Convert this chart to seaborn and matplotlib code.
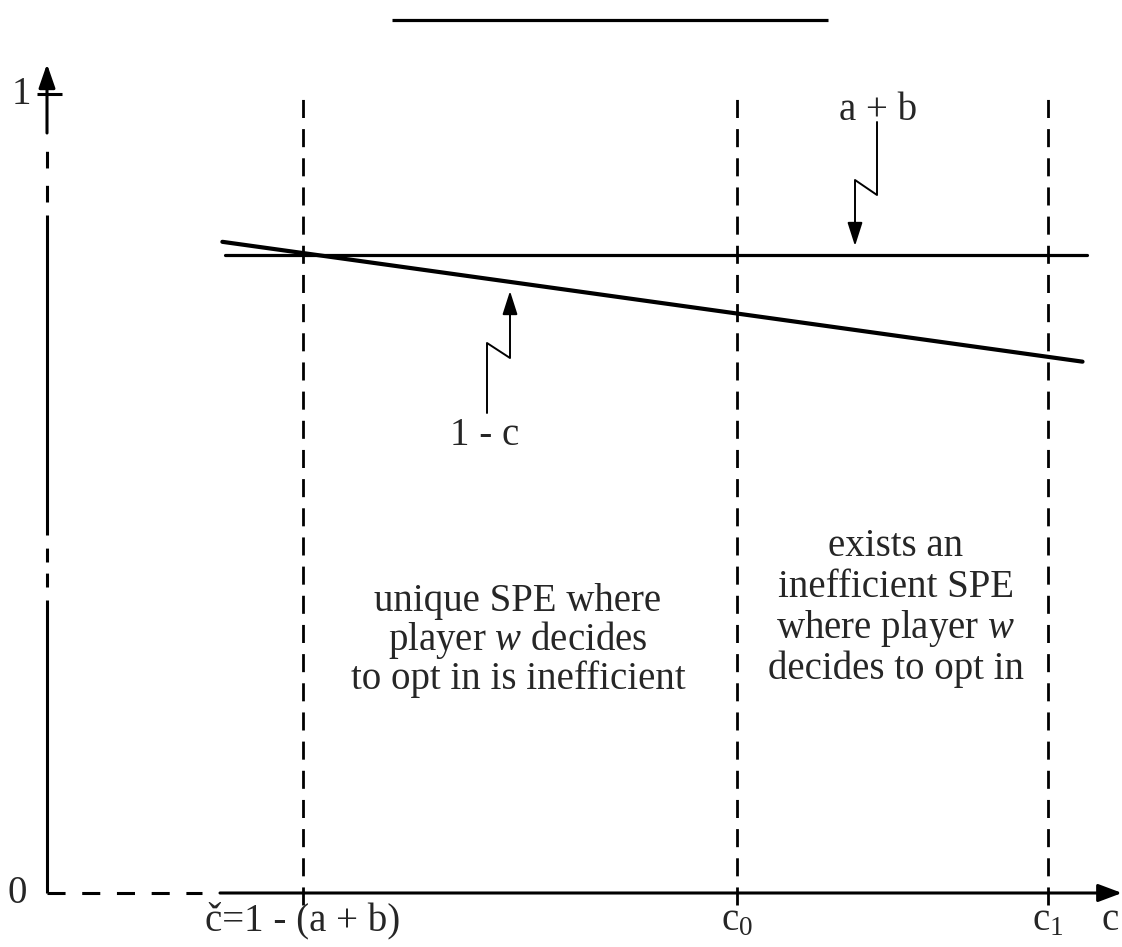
import matplotlib
matplotlib.use('Agg')
import matplotlib.pyplot as plt
import seaborn as sns

# ---- chart values (schematic) ----
c_marks = [0.2, 0.539, 0.782]                       # c-check, c0, c1
c_mark_labels = ['č=1 - (a + b)', 'c$_0$', 'c$_1$']
ab_c = [0.139, 0.8125]                              # "a + b" horizontal line
ab_level = [0.7985, 0.7985]
omc_c = [0.137, 0.809]                              # "1 - c" line
omc_y = [0.815, 0.665]
y_ticks = [0, 1]
y_tick_labels = ['0', '1']
region1_lines = ['unique SPE where', 'player $w$ decides', 'to opt in is inefficient']
region2_lines = ['exists an', 'inefficient SPE', 'where player $w$', 'decides to opt in']

sns.set_theme(style='white')
plt.rcParams['font.family'] = ['Liberation Serif', 'DejaVu Serif']
plt.rcParams['mathtext.fontset'] = 'custom'
plt.rcParams['mathtext.rm'] = 'Liberation Serif'
plt.rcParams['mathtext.it'] = 'Liberation Serif:italic'
plt.rcParams['lines.scale_dashes'] = False

W, H = 1122, 947
X0, Y0, SX, SY = 47, 893, 1280.0, 799.0
def cx(px):
    return (px - X0) / SX
def cy(py):
    return (Y0 - py) / SY

fig = plt.figure(figsize=(W / 100, H / 100), dpi=100)
ax = fig.add_axes([0, 0, 1, 1])
ax.set_xlim(cx(0), cx(W))
ax.set_ylim(cy(H), cy(0))
ax.axis('off')

K = 'black'
FS = 28

# decorative rule at top
ax.plot([cx(392), cx(828)], [cy(20), cy(20)], color=K, lw=2.3, solid_capstyle='butt')

# ---- y axis (solid / dashed pieces) ----
ax.plot([0, 0], [0, cy(600)], color=K, lw=2.2, solid_capstyle='butt')
ax.plot([0, 0], [cy(587), cy(548)], color=K, lw=2.2, ls=(0, (10, 8)))
ax.plot([0, 0], [cy(535), cy(215)], color=K, lw=2.2, solid_capstyle='butt')
ax.plot([0, 0], [cy(202), cy(150)], color=K, lw=2.2, ls=(0, (12, 12.5)))
ax.annotate('', xy=(0, cy(64)), xytext=(0, cy(133)),
            arrowprops=dict(arrowstyle='-|>,head_length=0.72,head_width=0.25',
                            mutation_scale=20, lw=2.2, color=K, shrinkA=0, shrinkB=0))
# tick at 1
ax.plot([cx(37), cx(62)], [y_ticks[1], y_ticks[1]], color=K, lw=2.2, solid_capstyle='butt')

# ---- x axis ----
ax.plot([0, cx(202)], [0, 0], color=K, lw=2.2, ls=(0, (13, 12)))
ax.annotate('', xy=(cx(1122), 0), xytext=(cx(220), 0),
            arrowprops=dict(arrowstyle='-|>,head_length=0.72,head_width=0.27',
                            mutation_scale=20, lw=2.2, color=K, shrinkA=0, shrinkB=0))

# ---- vertical dashed guides ----
for c in c_marks:
    ax.plot([c, c], [cy(905), cy(93)], color=K, lw=2.0, ls=(0, (13, 8)))

# ---- the two lines ----
sns.lineplot(x=ab_c, y=ab_level, ax=ax, color=K, lw=2.3, estimator=None, sort=False)
sns.lineplot(x=omc_c, y=omc_y, ax=ax, color=K, lw=3.0, estimator=None, sort=False)

# ---- axis labels ----
ax.text(cx(21), y_ticks[1], y_tick_labels[1], fontsize=FS, ha='center', va='center')
ax.text(cx(17), y_ticks[0], y_tick_labels[0], fontsize=FS, ha='center', va='center')
for c, lab in zip(c_marks, c_mark_labels):
    ax.text(c, cy(930), lab, fontsize=FS, ha='center', va='baseline')
ax.text(cx(1110), cy(930), 'c', fontsize=FS, ha='center', va='baseline')

# ---- callout "a + b" ----
ax.text(cx(878), cy(120), 'a + b', fontsize=FS, ha='center', va='baseline')
ax.plot([cx(877), cx(877), cx(855), cx(855)], [cy(122), cy(195), cy(180), cy(226)],
        color=K, lw=1.4)
ax.annotate('', xy=(cx(855), cy(246)), xytext=(cx(855), cy(222)),
            arrowprops=dict(arrowstyle='-|>,head_length=0.72,head_width=0.23',
                            mutation_scale=20, lw=1.4, color=K, shrinkA=0, shrinkB=0))

# ---- callout "1 - c" ----
ax.text(cx(485), cy(445), '1 - c', fontsize=FS, ha='center', va='baseline')
ax.plot([cx(487), cx(487), cx(510), cx(510)], [cy(413), cy(343), cy(358), cy(312)],
        color=K, lw=1.4)
ax.annotate('', xy=(cx(510), cy(291)), xytext=(cx(510), cy(316)),
            arrowprops=dict(arrowstyle='-|>,head_length=0.72,head_width=0.23',
                            mutation_scale=20, lw=1.4, color=K, shrinkA=0, shrinkB=0))

# ---- region texts ----
for i, line in enumerate(region1_lines):
    ax.text(cx(518), cy(611 + 39 * i), line, fontsize=FS, ha='center', va='baseline')
for i, line in enumerate(region2_lines):
    ax.text(cx(896), cy(556 + 41 * i), line, fontsize=FS, ha='center', va='baseline')

fig.savefig('out.png', dpi=100, facecolor='white')
